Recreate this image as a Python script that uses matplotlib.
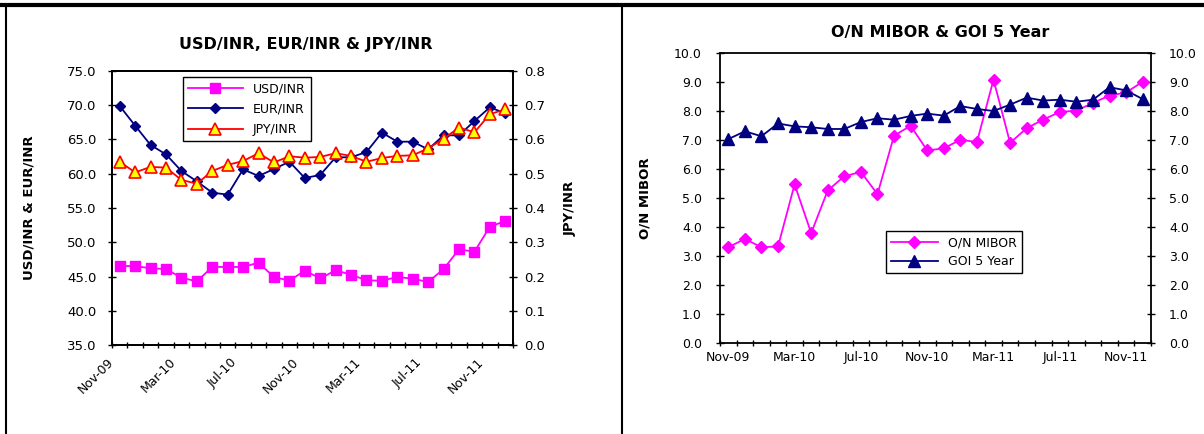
import numpy as np
import matplotlib
matplotlib.use('Agg')
from matplotlib import pyplot as plt
from matplotlib.lines import Line2D
from matplotlib.ticker import FormatStrFormatter
from matplotlib.transforms import ScaledTranslation

months = ['Nov-09', 'Dec-09', 'Jan-10', 'Feb-10', 'Mar-10', 'Apr-10', 'May-10',
          'Jun-10', 'Jul-10', 'Aug-10', 'Sep-10', 'Oct-10', 'Nov-10', 'Dec-10',
          'Jan-11', 'Feb-11', 'Mar-11', 'Apr-11', 'May-11', 'Jun-11', 'Jul-11',
          'Aug-11', 'Sep-11', 'Oct-11', 'Nov-11', 'Dec-11']

usd_inr = [46.53, 46.53, 46.19, 46.09, 44.83, 44.29, 46.39, 46.39, 46.39, 47.02,
           44.93, 44.39, 45.85, 44.73, 45.90, 45.27, 44.44, 44.39, 44.93, 44.68,
           44.20, 46.09, 48.97, 48.62, 52.27, 53.10]
eur_inr = [69.89, 67.02, 64.20, 62.83, 60.40, 58.89, 57.24, 56.95, 60.64, 59.67,
           60.69, 61.76, 59.38, 59.82, 62.40, 62.40, 63.18, 66.00, 64.68, 64.68,
           63.56, 65.61, 65.61, 67.70, 69.70, 68.82]
jpy_inr = [0.535, 0.504, 0.520, 0.518, 0.482, 0.471, 0.508, 0.526, 0.537, 0.560,
           0.533, 0.551, 0.547, 0.549, 0.560, 0.552, 0.535, 0.546, 0.552, 0.554,
           0.574, 0.602, 0.635, 0.621, 0.674, 0.688]

on_mibor = [3.30, 3.59, 3.30, 3.33, 5.47, 3.79, 5.26, 5.75, 5.90, 5.13, 7.15,
            7.49, 6.64, 6.71, 7.01, 6.93, 9.08, 6.90, 7.41, 7.70, 7.97, 8.01,
            8.28, 8.53, 8.64, 9.01]
goi_5yr = [7.03, 7.30, 7.13, 7.57, 7.47, 7.44, 7.38, 7.38, 7.62, 7.75, 7.70,
           7.83, 7.91, 7.84, 8.17, 8.07, 8.00, 8.22, 8.46, 8.36, 8.39, 8.32,
           8.39, 8.82, 8.71, 8.41]

W, H = 1204, 434
fig = plt.figure(figsize=(W / 100, H / 100), dpi=100)


def px(x0, y0, x1, y1):
    return [x0 / W, 1 - y1 / H, (x1 - x0) / W, (y1 - y0) / H]


def xaxis_setup(ax, rot):
    x = np.arange(len(months))
    ax.set_xlim(-0.5, len(months) - 0.5)
    ax.set_xticks(x[::4])
    if rot:
        ax.set_xticklabels(months[::4], rotation=45, ha='right', va='center',
                           rotation_mode='anchor', fontsize=9)
        ax.tick_params(axis='x', which='major', length=0, pad=11)
        shift = ScaledTranslation(-8 / 100, 0, fig.dpi_scale_trans)
        for lab in ax.get_xticklabels():
            lab.set_transform(lab.get_transform() + shift)
    else:
        ax.set_xticklabels(months[::4], fontsize=9)
        ax.tick_params(axis='x', which='major', length=0, pad=6)
    ax.set_xticks(np.arange(-0.5, len(months), 1), minor=True)
    ax.tick_params(axis='x', which='minor', direction='inout', length=5, width=1)


x = np.arange(len(months))

# left panel
ax = fig.add_axes(px(112, 71, 513, 345))
l1, = ax.plot(x, usd_inr, color='#ff00ff', marker='s', ms=7, lw=1.3, label='USD/INR')
l2, = ax.plot(x, eur_inr, color='#000080', marker='D', ms=5.5, lw=1.3, label='EUR/INR')
ax.set_ylim(35, 75)
ax.set_yticks(np.arange(35, 76, 5))
ax.yaxis.set_major_formatter(FormatStrFormatter('%.1f'))
ax.tick_params(axis='y', direction='inout', length=6, width=1, pad=8, labelsize=9.5)
xaxis_setup(ax, True)
ax.set_ylabel('USD/INR & EUR/INR', fontsize=9.5, fontweight='bold')
ax.yaxis.set_label_coords(-0.19, 0.5)

ax2 = ax.twinx()
l3, = ax2.plot(x, jpy_inr, color='red', marker='^', mfc='yellow', mec='red', mew=1.2,
               ms=8, lw=1.3, label='JPY/INR')
ax2.set_ylim(0, 0.8)
ax2.set_yticks(np.arange(0, 0.81, 0.1))
ax2.yaxis.set_major_formatter(FormatStrFormatter('%.1f'))
ax2.tick_params(axis='y', direction='inout', length=6, width=1, pad=5, labelsize=9.5)
ax2.set_ylabel('JPY/INR', fontsize=9.5, fontweight='bold')
ax2.yaxis.set_label_coords(1.127, 0.5)
leg = ax2.legend(handles=[l1, l2, l3], loc='upper left', bbox_to_anchor=(0.177, 0.978),
                 fontsize=9, handlelength=4.4, fancybox=False, framealpha=1,
                 edgecolor='black', borderaxespad=0, labelspacing=0.6)
leg.get_frame().set_linewidth(1)
for a in (ax, ax2):
    for s in a.spines.values():
        s.set_linewidth(1.3)
fig.text(306 / W, 1 - 45 / H, 'USD/INR, EUR/INR & JPY/INR', ha='center', va='center',
         fontsize=11.5, fontweight='bold')

# right panel
bx = fig.add_axes(px(720, 53, 1151, 343))
m1, = bx.plot(x, on_mibor, color='#ff00ff', marker='D', ms=6, lw=1.3, label='O/N MIBOR')
m2, = bx.plot(x, goi_5yr, color='#000080', marker='^', ms=8, lw=1.3, label='GOI 5 Year')
bx.set_ylim(0, 10)
bx.set_yticks(np.arange(0, 10.1, 1))
bx.yaxis.set_major_formatter(FormatStrFormatter('%.1f'))
bx.tick_params(axis='y', direction='inout', length=6, width=1, pad=10, labelsize=9,
               right=True, labelright=True)
xaxis_setup(bx, False)
for s in bx.spines.values():
    s.set_linewidth(1.3)
bx.set_ylabel('O/N MIBOR', fontsize=9.5, fontweight='bold')
bx.yaxis.set_label_coords(-0.158, 0.5)
leg2 = bx.legend(loc='upper left', bbox_to_anchor=(0.384, 0.386), fontsize=9,
                 handlelength=3.8, fancybox=False, framealpha=1, edgecolor='black',
                 borderaxespad=0, labelspacing=0.5)
leg2.get_frame().set_linewidth(1)
fig.text(940 / W, 1 - 33 / H, 'O/N MIBOR & GOI 5 Year', ha='center', va='center',
         fontsize=11.5, fontweight='bold')

# page borders
fig.add_artist(Line2D([0, 1], [1 - 5 / H, 1 - 5 / H], transform=fig.transFigure,
                      color='black', lw=3))
fig.add_artist(Line2D([6 / W, 6 / W], [0, 1 - 5 / H], transform=fig.transFigure,
                      color='black', lw=1.5))
fig.add_artist(Line2D([622 / W, 622 / W], [0, 1 - 5 / H], transform=fig.transFigure,
                      color='black', lw=1.5))

fig.savefig('out.png', dpi=100)
